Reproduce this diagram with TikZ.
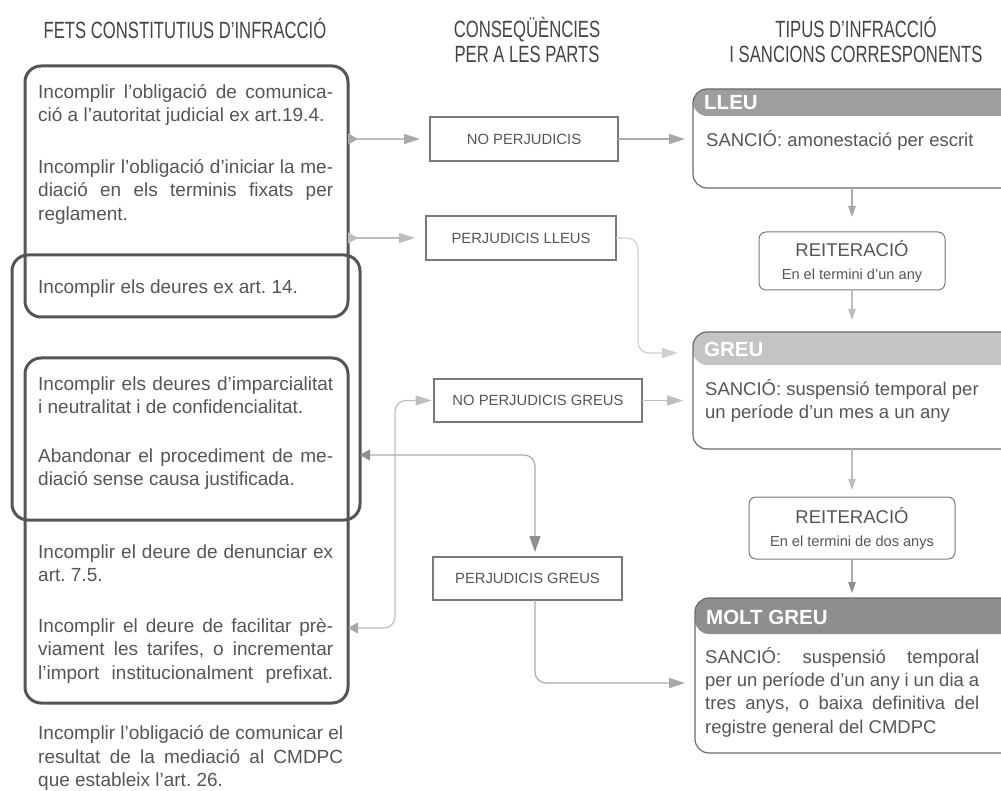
\documentclass[tikz,border=0pt]{standalone}
\usepackage{fontspec}
\setmainfont{Liberation Sans}
\newfontfamily\hdfont[FakeStretch=0.71]{Liberation Sans}
\usetikzlibrary{arrows.meta}
\definecolor{txt}{HTML}{555555}
\definecolor{hdc}{HTML}{444444}
\definecolor{lbord}{HTML}{555555}
\definecolor{mbord}{HTML}{7A7A7A}
\definecolor{rbord}{HTML}{6A6A6A}
\definecolor{bandA}{HTML}{9E9E9E}
\definecolor{bandB}{HTML}{C4C4C4}
\definecolor{bandC}{HTML}{8E8E8E}
\definecolor{lnA}{HTML}{BDBDBD}
\definecolor{lnB}{HTML}{ABABAB}
\definecolor{lnC}{HTML}{D0D0D0}
\definecolor{tipA}{HTML}{A8A8A8}
\definecolor{tipB}{HTML}{8E8E8E}
\newcommand\J[2][295pt]{\makebox[#1][s]{\spaceskip=0pt\xspaceskip=0pt\relax#2}}
\newcommand\N[1]{\mbox{\spaceskip=0pt\xspaceskip=0pt\relax#1}}
\frenchspacing
\tikzset{
  hd/.style={inner sep=0pt, text=hdc, font=\hdfont\fontsize{23.5}{25}\selectfont},
  lbox/.style={draw=lbord, line width=3pt, rounded corners=16pt, inner sep=0pt, outer sep=0pt},
  ltxt/.style={anchor=north west, inner sep=0pt, text width=310pt, align=left, text=txt,
    font=\frenchspacing\fontsize{19}{23.5}\selectfont},
  mbox/.style={draw=mbord, line width=1.5pt, inner sep=0pt, outer sep=0pt, text=txt,
    font=\fontsize{14.8}{16}\selectfont},
  rbox/.style={draw=rbord, line width=1.2pt, rounded corners=14pt, inner sep=0pt, outer sep=0pt},
  rtxt/.style={anchor=north west, inner sep=0pt, text width=290pt, align=left, text=txt,
    font=\frenchspacing\fontsize{18.5}{23.3}\selectfont},
  band/.style={anchor=west, inner sep=0pt, text=white, font=\bfseries\fontsize{20.5}{22}\selectfont},
  reit/.style={draw=mbord, line width=1pt, rounded corners=7pt, inner sep=0pt, outer sep=0pt,
    align=center, text=txt, font=\fontsize{18.5}{23}\selectfont},
  con/.style={line width=1.2pt, rounded corners=11pt},
  ahead/.style={-{Triangle[length=16pt,width=10pt,color=#1]}},
  vhead/.style={-{Triangle[length=11pt,width=7.5pt,color=#1]}},
}
\begin{document}
\begin{tikzpicture}[x=1pt,y=-1pt]
\useasboundingbox (0,0) rectangle (1001,791);
\clip (0,0) rectangle (1001,791);

% headers
\node[hd] (h1) at (185,28) {FETS CONSTITUTIUS D’INFRACCIÓ};
\node[hd, align=center] (h2) at (527,40) {CONSEQÜÈNCIES\\PER A LES PARTS};
\node[hd, align=center] (h3) at (856,40) {TIPUS D’INFRACCIÓ\\I SANCIONS CORRESPONENTS};

% left grouping boxes
\node[lbox, minimum width=323pt, minimum height=251pt] (b1) at (186.5,191.5) {};
\node[lbox, minimum width=348pt, minimum height=265pt] (b2) at (186,387.5) {};
\node[lbox, minimum width=323pt, minimum height=345pt] (b3) at (186.5,530.5) {};

% left texts
\node[ltxt] (t1) at (38,81.5) {\strut\J{Incomplir l’obligació de comunica-}\\\N{ció a l’autoritat judicial ex art.19.4.}};
\node[ltxt] (t2) at (38,156.5) {\strut\J{Incomplir l’obligació d’iniciar la me-}\\\J{diació en els terminis fixats per}\\reglament.};
\node[ltxt] (t3) at (38,276.5) {\strut\N{Incomplir els deures ex art. 14.}};
\node[ltxt] (t4) at (38,373.5) {\strut\J{Incomplir els deures d’imparcialitat}\\\N{i neutralitat i de confidencialitat.}};
\node[ltxt] (t5) at (38,445.5) {\strut\J{Abandonar el procediment de me-}\\\N{diació sense causa justificada.}};
\node[ltxt] (t6) at (38,541.5) {\strut\J{Incomplir el deure de denunciar ex}\\\N{art. 7.5.}};
\node[ltxt] (t7) at (38,615.5) {\strut\J{Incomplir el deure de facilitar prè-}\\\J{viament les tarifes, o incrementar}\\\J{l’import institucionalment prefixat.}};
\node[ltxt] (t8) at (38,723) {\strut\J[305pt]{Incomplir l’obligació de comunicar el}\\\J[305pt]{resultat de la mediació al CMDPC}\\\N{que estableix l’art. 26.}};

% middle boxes
\node[mbox, minimum width=188pt, minimum height=44pt] (NP) at (524,139) {NO PERJUDICIS};
\node[mbox, minimum width=190pt, minimum height=44pt] (PL) at (521,238) {PERJUDICIS LLEUS};
\node[mbox, minimum width=208pt, minimum height=43pt] (NPG) at (538,400.5) {NO PERJUDICIS GREUS};
\node[mbox, minimum width=189pt, minimum height=43pt] (PG) at (527.5,578.5) {PERJUDICIS GREUS};

% right boxes
\node[rbox, minimum width=322pt, minimum height=99pt,
  path picture={\fill[bandA] (path picture bounding box.north west) rectangle ([yshift=-27pt]path picture bounding box.north east);}] (LL) at (854,138.5) {};
\node[rbox, minimum width=322pt, minimum height=117pt,
  path picture={\fill[bandB] (path picture bounding box.north west) rectangle ([yshift=-33pt]path picture bounding box.north east);}] (GR) at (854,390.5) {};
\node[rbox, minimum width=320pt, minimum height=155pt,
  path picture={\fill[bandC] (path picture bounding box.north west) rectangle ([yshift=-36pt]path picture bounding box.north east);}] (MG) at (855,675.5) {};
\node[band] (LLt) at (704,103) {LLEU};
\node[band] (GRt) at (704,349) {GREU};
\node[band] (MGt) at (706,617) {MOLT GREU};
\node[rtxt] (LLb) at (706,129.7) {\strut\N{SANCIÓ: amonestació per escrit}};
\node[rtxt] (GRb) at (705,378.7) {\strut\N{SANCIÓ: suspensió temporal per}\\\N{un període d’un mes a un any}};
\node[rtxt] (MGb) at (705,646.7) {\strut\J[274pt]{SANCIÓ: suspensió temporal}\\\J[274pt]{per un període d’un any i un dia a}\\\J[274pt]{tres anys, o baixa definitiva del}\\\N{registre general del CMDPC}};

% reiteració boxes
\node[reit, minimum width=186pt, minimum height=58pt] (R1) at (852,261)
  {REITERACIÓ\\{\fontsize{14.6}{18}\selectfont En el termini d’un any}};
\node[reit, minimum width=206pt, minimum height=62pt] (R2) at (852,528)
  {REITERACIÓ\\{\fontsize{14.6}{18}\selectfont En el termini de dos anys}};

% connectors
\coordinate (s5) at (348,628);
\coordinate (s7) at (360,455);
\draw[con, draw=lnA, {Triangle[reversed,length=10pt,width=11pt,color=tipA]}-{Triangle[length=16pt,width=10pt,color=tipA]}, shorten >=10pt]
  (b1.east |- NP.west) -- (NP.west);
\draw[con, draw=lnA, {Triangle[reversed,length=10pt,width=11pt,color=lnA]}-{Triangle[length=16pt,width=10pt,color=lnA]}, shorten >=11pt]
  (b1.east |- PL.west) -- (PL.west);
\draw[con, draw=lnB, ahead=tipA, shorten >=8pt] (NP.east) -- (LL.west |- NP.east);
\draw[con, draw=lnC, ahead=lnC, shorten >=15pt] (PL.east) -- ++(22,0) |- ([yshift=37.5pt]GR.west);
\draw[con, draw=lnA, {Triangle[length=10pt,width=11pt,color=tipA]}-{Triangle[length=16pt,width=10pt,color=lnA]}, shorten >=2.5pt]
  (s5) -- ++(47,0) |- (NPG.west);
\draw[con, draw=lnA, ahead=lnA, shorten >=10pt] (NPG.east) -- (GR.west |- NPG.east);
\draw[con, draw=lnB, {Triangle[length=10pt,width=11pt,color=tipB]}-{Triangle[length=16pt,width=11pt,color=tipB]}, shorten >=5pt]
  (s7) -| ([xshift=7.5pt]PG.north);
\draw[con, draw=lnB, ahead=tipA, shorten >=10pt] ([xshift=7.5pt]PG.south) |- ([yshift=-7.5pt]MG.west);
\draw[con, draw=lnB, vhead=tipA, shorten >=15pt] (R1.north |- LL.south) -- (R1.north);
\draw[con, draw=lnA, vhead=lnA, shorten >=12pt] (R1.south) -- (R1.south |- GR.north);
\draw[con, draw=lnA, vhead=lnA, shorten >=7pt] (R2.north |- GR.south) -- (R2.north);
\draw[con, draw=lnB, vhead=tipB, shorten >=5pt] (R2.south) -- (R2.south |- MG.north);
\end{tikzpicture}
\end{document}
